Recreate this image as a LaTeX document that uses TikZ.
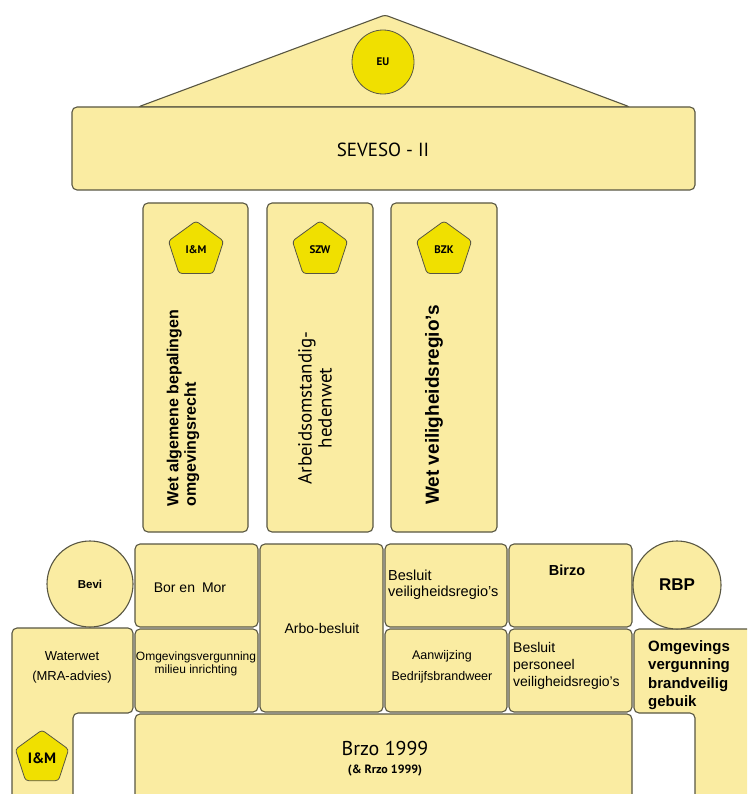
\documentclass[tikz,border=0pt]{standalone}
\usepackage{fontspec}
\setmainfont{Liberation Sans}
\newfontfamily\thinfont{PT Sans}
\usetikzlibrary{shapes.geometric}
\definecolor{pillar}{RGB}{250,236,162}
\definecolor{badge}{RGB}{240,224,0}
\definecolor{rim}{RGB}{88,86,66}

\begin{document}
\begin{tikzpicture}[x=1pt, y=-1pt,
	block/.style={draw=rim, fill=pillar, line width=1.1pt, rounded corners=5pt},
	badge/.style={draw=rim, fill=badge, line width=0.8pt, regular polygon, regular polygon sides=5,
		minimum size=58pt, inner sep=0pt, rounded corners=3pt, font=\thinfont\bfseries\fontsize{11}{12}\selectfont},
	seal/.style={draw=rim, fill=pillar, line width=1.1pt, circle, inner sep=0pt},
	txt/.style={inner sep=0pt, font=\fontsize{13}{15}\selectfont}]
	\useasboundingbox (0,0) rectangle (747,794);
	\clip (0,0) rectangle (747,794);
	% roof
	\draw [block, rounded corners=3pt] (138,107) -- (385,15) -- (630,107) -- cycle;
	\draw [block] (72,107) rectangle (695,190);
	\node [draw=rim, fill=badge, ellipse, line width=0.8pt, minimum width=62pt, minimum height=64pt,
		font=\thinfont\bfseries\fontsize{11}{12}\selectfont] (eu) at (383,62) {EU};
	\node [font=\thinfont\fontsize{19}{21}\selectfont] (seveso) at (383,150) {SEVESO - II};
	% pillars
	\draw [block] (143,203) rectangle (248,532);
	\draw [block] (267,203) rectangle (373,532);
	\draw [block] (391,203) rectangle (497,532);
	\node [badge] (imTop) at (196,250) {I\&M};
	\node [badge] (szw) at (320,250) {SZW};
	\node [badge] (bzk) at (444,250) {BZK};
	\node [rotate=90, align=left, font=\bfseries\fontsize{16}{17.5}\selectfont] (wabo) at (183,408)
		{Wet algemene bepalingen\\omgevingsrecht};
	\node [rotate=90, align=center, font=\thinfont\fontsize{19}{20}\selectfont] (arbowet) at (315,408)
		{Arbeidsomstandig-\\hedenwet};
	\node [rotate=90, font=\bfseries\fontsize{19}{20}\selectfont] (wvr) at (434,405) {Wet veiligheidsregio's};
	% base
	\draw [block] (12,814) -- (12,628) -- (133,628) -- (133,713) -- (73,713) -- (73,814) -- cycle;
	\draw [block] (634,629) -- (760,629) -- (760,814) -- (695,814) -- (695,713) -- (634,713) -- cycle;
	\draw [block] (135,544) rectangle (258,627);
	\draw [block] (260,544) rectangle (383,712);
	\draw [block] (385,544) rectangle (507,627);
	\draw [block] (509,544) rectangle (632,627);
	\draw [block] (135,629) rectangle (258,712);
	\draw [block] (385,629) rectangle (507,712);
	\draw [block] (509,629) rectangle (632,712);
	\draw [block] (135,714) rectangle (632,814);
	\node [seal, minimum size=86pt, font=\bfseries\fontsize{11.5}{13}\selectfont] (bevi) at (90,584) {Bevi};
	\node [seal, minimum size=88pt, font=\bfseries\fontsize{17}{19}\selectfont] (rbp) at (677,585) {RBP};
	\node [badge, minimum size=56pt, font=\thinfont\bfseries\fontsize{15}{17}\selectfont] (imBase) at (42,758) {I\&M};
	\node [txt, font=\fontsize{14}{16}\selectfont] (borMor) at (190,588) {Bor en\enspace Mor};
	\node [txt, font=\fontsize{14}{16}\selectfont] (arbo) at (322,628) {Arbo-besluit};
	\node [txt, align=left, anchor=west, font=\fontsize{14.5}{16}\selectfont] (bvr) at (388,585)
		{Besluit\\veiligheidsregio's};
	\node [txt, font=\bfseries\fontsize{14.5}{16}\selectfont] (birzo) at (567,570) {Birzo};
	\node [txt, align=center, font=\fontsize{13}{20}\selectfont] (waterwet) at (72,667) {Waterwet\\(MRA-advies)};
	\node [txt, align=center, font=\fontsize{12}{13.5}\selectfont] (ovMilieu) at (196,664)
		{Omgevingsvergunning\\milieu inrichting};
	\node [txt, align=center, font=\fontsize{12.5}{21}\selectfont] (aanwijzing) at (442,667)
		{Aanwijzing\\Bedrijfsbrandweer};
	\node [txt, align=left, anchor=west, font=\fontsize{14}{17}\selectfont] (bpvr) at (513,666)
		{Besluit\\personeel\\veiligheidsregio's};
	\node [txt, align=left, anchor=west, font=\bfseries\fontsize{15}{18.5}\selectfont] (ovBrand) at (648,675)
		{Omgevings\\vergunning\\brandveilig\\gebuik};
	\node [font=\thinfont\fontsize{20}{22}\selectfont] (brzo) at (385,748) {Brzo 1999};
	\node [font=\thinfont\bfseries\fontsize{12}{13}\selectfont] (rrzo) at (385,771) {(\& Rrzo 1999)};
\end{tikzpicture}
\end{document}
